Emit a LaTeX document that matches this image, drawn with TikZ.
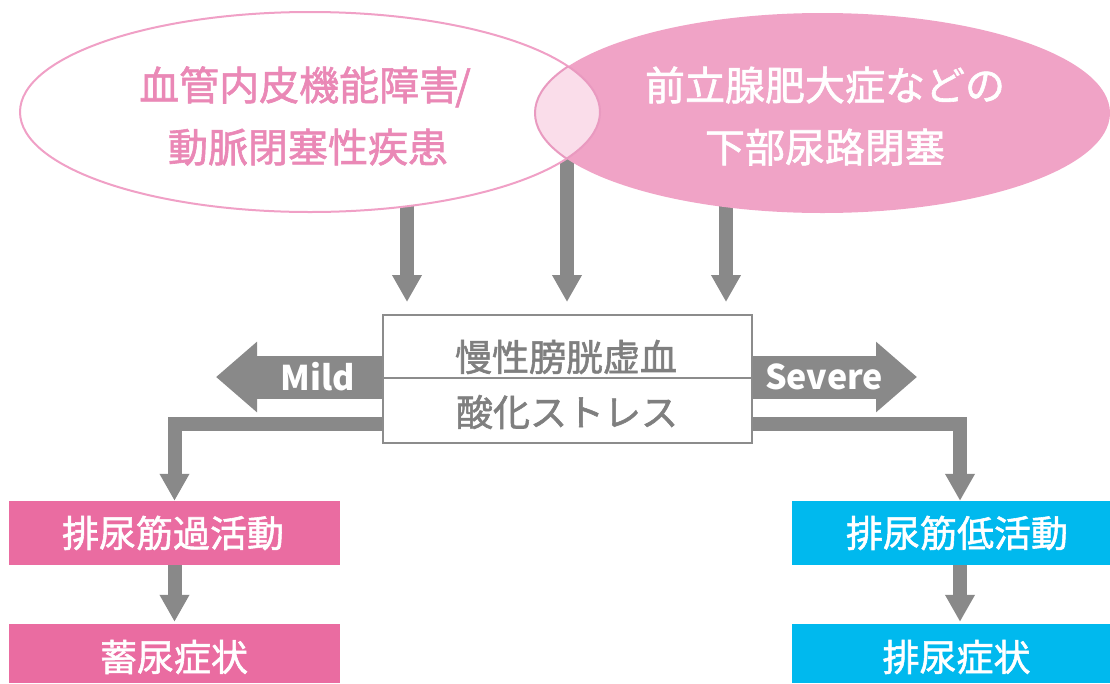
\documentclass[tikz,border=0pt]{standalone}
\usepackage{fontspec}
\setmainfont{Noto Sans CJK JP}
\newfontfamily\medfont{Noto Sans CJK JP}[FakeBold=1.5]
\usetikzlibrary{shapes.geometric,arrows.meta,backgrounds}
\definecolor{arrowgray}{HTML}{898989}
\definecolor{ellstroke}{HTML}{F0A0C6}
\definecolor{ellfill}{HTML}{F0A3C6}
\definecolor{lensfill}{HTML}{FADDEA}
\definecolor{lensstroke}{HTML}{E99AC0}
\definecolor{ltext}{HTML}{EA88B6}
\definecolor{boxgray}{HTML}{8C8C8C}
\definecolor{textgray}{HTML}{7F7F7F}
\definecolor{pinkbox}{HTML}{EA6CA1}
\definecolor{bluebox}{HTML}{00B9EE}
\begin{document}
\begin{tikzpicture}[x=1pt,y=-1pt,
  conn/.style={draw=arrowgray, line width=14pt, -{Triangle[width=28pt,length=27pt]}},
  blockarrow/.style={draw=arrowgray, line width=43pt, -{Triangle[width=68pt,length=41pt]}},
  centerbox/.style={draw=boxgray, line width=2pt, fill=white, inner sep=0, minimum width=369pt},
  centertext/.style={text=textgray, font=\medfont\fontsize{37}{40}\selectfont, inner sep=0},
  ellipsetext/.style={font=\medfont\fontsize{40}{62}\selectfont, align=center, inner sep=0},
  colorbox/.style={inner sep=0, minimum height=64pt},
  boxtext/.style={text=white, font=\medfont\fontsize{37}{40}\selectfont, inner sep=0},
  arrowtext/.style={text=white, font=\bfseries\fontsize{34}{40}\selectfont, inner sep=0}]
\useasboundingbox (0,0) rectangle (1110,683);

% ellipses
\node[ellipse, draw=ellstroke, line width=2pt, fill=white, minimum width=580pt, minimum height=200pt, inner sep=0] (L) at (310,112) {};
\node[ellipse, fill=ellfill, minimum width=575pt, minimum height=200pt, inner sep=0] (R) at (822.5,113) {};
\begin{scope}
  \clip (310,112) ellipse [x radius=290pt, y radius=100pt];
  \filldraw[fill=lensfill, draw=lensstroke, line width=2pt] (822.5,113) ellipse [x radius=287.5pt, y radius=100pt];
\end{scope}
\begin{scope}
  \clip (822.5,113) ellipse [x radius=287.5pt, y radius=100pt];
  \draw[draw=lensstroke, line width=2pt] (310,112) ellipse [x radius=290pt, y radius=100pt];
\end{scope}
\node[ellipsetext, text=ltext] (Lt) at (305,116) {血管内皮機能障害\hspace{-4pt}/\\\hspace{6pt}動脈閉塞性疾患};
\node[ellipsetext, text=white] (Rt) at (825,116) {前立腺肥大症などの\\下部尿路閉塞};

% center box
\node[centerbox, minimum height=63pt] (B1) at (567.5,346.5) {};
\node[centerbox, minimum height=65pt] (B2) at (567.5,410.5) {};
\node[centertext] (B1t) at (566,357) {慢性膀胱虚血};
\node[centertext] (B2t) at (567,412) {酸化ストレス};

% coloured boxes
\node[colorbox, fill=pinkbox, minimum width=331pt] (P1) at (174.5,533) {};
\node[colorbox, fill=pinkbox, minimum width=331pt, minimum height=59pt] (P2) at (174.5,653.5) {};
\node[colorbox, fill=bluebox, minimum width=318pt] (Q1) at (951,533) {};
\node[colorbox, fill=bluebox, minimum width=318pt, minimum height=59pt] (Q2) at (951,653.5) {};
\node[boxtext] (P1t) at (173,533) {排尿筋過活動};
\node[boxtext] (P2t) at (174,657) {蓄尿症状};
\node[boxtext] (Q1t) at (957,533) {排尿筋低活動};
\node[boxtext] (Q2t) at (956.5,657) {排尿症状};

\coordinate (t1) at (407,302);
\coordinate (t2) at (567,302);
\coordinate (t3) at (726,302);
\coordinate (mtip) at (216,377);
\coordinate (stip) at (917,377);

\begin{pgfonlayer}{background}
  \draw[conn] (L.center -| t1) -- (t1);
  \draw[conn] (L.center -| t2) -- (t2);
  \draw[conn] (R.center -| t3) -- (t3);
  \draw[blockarrow] (B1.west |- mtip) -- (mtip);
  \draw[blockarrow] (B1.east |- stip) -- (stip);
  \draw[conn] ([yshift=-13.5pt]B2.west) -| (P1.north);
  \draw[conn] ([yshift=-13.5pt]B2.east) -| ([xshift=9pt]Q1.north);
  \draw[conn, shorten >=2pt] (P1.south) -- (P2.north);
  \draw[conn, shorten >=2pt] ([xshift=9pt]Q1.south) -- ([xshift=9pt]Q2.north);
\end{pgfonlayer}
\node[arrowtext] (mild) at (318,377) {Mild};
\node[arrowtext] (severe) at (824,377) {Severe};
\end{tikzpicture}
\end{document}
